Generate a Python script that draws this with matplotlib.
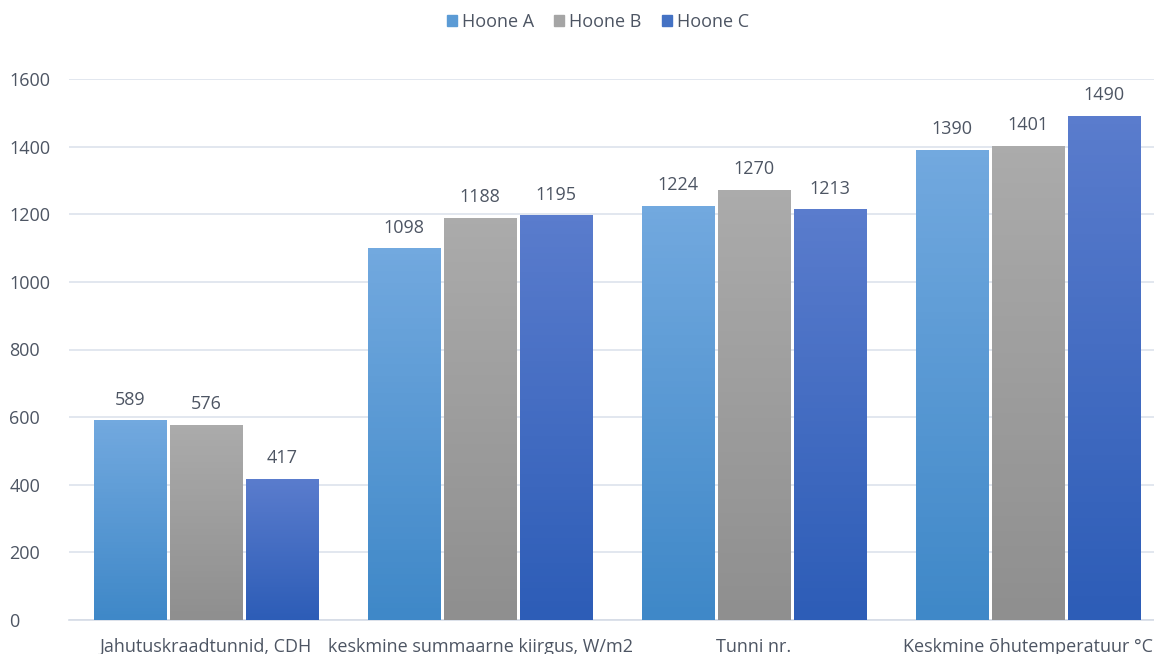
import numpy as np
from matplotlib import pyplot as plt
from matplotlib.colors import LinearSegmentedColormap
from matplotlib.patches import Patch

categories = ['Jahutuskraadtunnid, CDH', 'keskmine summaarne kiirgus, W/m2',
              'Tunni nr.', 'Keskmine õhutemperatuur °C']
series_names = ['Hoone A', 'Hoone B', 'Hoone C']
hoone_a = [589, 1098, 1224, 1390]
hoone_b = [576, 1188, 1270, 1401]
hoone_c = [417, 1195, 1213, 1490]
yticks = [0, 200, 400, 600, 800, 1000, 1200, 1400, 1600]

# top / bottom colours of each gradient
grads = [('#72a9df', '#3f88c8'), ('#ababab', '#8f8f8f'), ('#5a7ccd', '#2d5db7')]
legend_cols = ['#5b9bd5', '#a5a5a5', '#4472c4']
txt = '#4d5563'

plt.rcParams['font.family'] = ['Open Sans', 'DejaVu Sans']

fg = plt.figure(figsize=(11.54, 6.54), dpi=100)
ax = fg.add_axes([69/1154, 34/654, 1096/1154, 541/654])

width = 0.263
step = 0.277
x = np.arange(len(categories))
for i, vals in enumerate([hoone_a, hoone_b, hoone_c]):
    top, bot = grads[i]
    cmap = LinearSegmentedColormap.from_list('g%d' % i, [bot, top])
    grad = np.linspace(0, 1, 64).reshape(-1, 1)
    for xi, v in zip(x, vals):
        x0 = xi + (i - 1) * step - width/2
        ax.imshow(grad, cmap=cmap, origin='lower', aspect='auto',
                  extent=(x0, x0 + width, 0, v), zorder=3)
        ax.text(xi + (i - 1) * step, v + 36, str(v), ha='center', va='bottom',
                fontsize=13, color=txt, clip_on=False)

ax.set_xlim(-0.5, 3.5)
ax.set_ylim(0, 1600)
ax.set_yticks(yticks)
ax.set_yticklabels([str(t) for t in yticks], fontsize=13, color=txt)
ax.set_xticks(x)
ax.set_xticklabels(categories, fontsize=13, color=txt)
ax.tick_params(axis='x', length=0, pad=13)
ax.tick_params(axis='y', length=0, pad=43)
for lab in ax.get_yticklabels():
    lab.set_horizontalalignment('left')
ax.grid(axis='y', color='#dde3ec', linewidth=1.2, zorder=0)
ax.set_axisbelow(True)
for s in ['top', 'right', 'left']:
    ax.spines[s].set_visible(False)
ax.spines['bottom'].set_color('#d5dce6')
ax.spines['bottom'].set_linewidth(1.2)

handles = [Patch(color=c, label=n) for c, n in zip(legend_cols, series_names)]
fg.legend(handles=handles, loc='center', bbox_to_anchor=(598/1154, 1 - 22/654),
          ncol=3, frameon=False, fontsize=13, handlelength=0.55, handleheight=0.55,
          handletextpad=0.3, columnspacing=1.1, labelcolor=txt)

fg.savefig('out.png', dpi=100)
